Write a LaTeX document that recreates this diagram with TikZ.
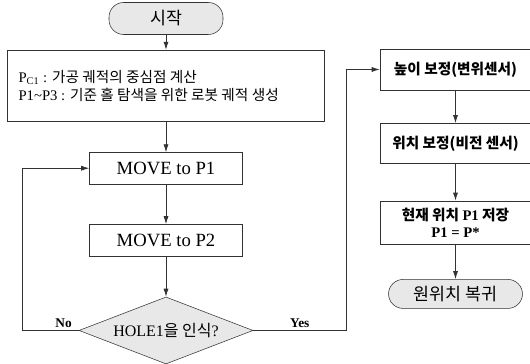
\documentclass[tikz,border=0pt]{standalone}
\usepackage{fontspec}
\setmainfont{Liberation Serif}
\newfontfamily\kr{Noto Sans CJK KR}
\usepackage{tikz}
\usetikzlibrary{arrows.meta,positioning,shapes.geometric}
\definecolor{linea}{RGB}{50,50,50}
\definecolor{gris}{RGB}{232,232,232}

\begin{document}
\begin{tikzpicture}[x=0.75pt,y=0.75pt,
term/.style={draw=linea,rounded corners=11pt,fill=gris,minimum height=24pt,inner sep=0pt,font=\kr\fontsize{13}{15}\selectfont},
box/.style={draw=linea,fill=white,minimum width=114.75pt,minimum height=23.5pt,inner sep=0pt,align=center,font=\fontsize{14}{16}\selectfont},
rbox/.style={draw=linea,fill=white,minimum width=113.25pt,minimum height=30.5pt,inner sep=0pt,align=center,font=\kr\bfseries\fontsize{11}{12.75}\selectfont},
dec/.style={draw=linea,diamond,aspect=2.6,fill=gris,minimum width=130.5pt,minimum height=50.25pt,inner sep=0pt,font=\fontsize{12}{14}\selectfont},
lbl/.style={font=\bfseries\fontsize{10}{12}\selectfont,inner sep=2pt},
arr/.style={-{Latex[length=6pt,width=3.8pt]},draw=linea,line width=0.6pt}
]
\useasboundingbox (0,0) rectangle (530,363);

% left column
\node[term,minimum width=85.5pt] (st) at (166,344.5) {시작};
\node[box,below=11.25pt of st,minimum width=237.75pt,minimum height=53.25pt,align=left,font=\fontsize{11}{13.5}\selectfont] (calc) {P\textsubscript{C1} : {\kr 가공 궤적의 중심점 계산}\\P1\textasciitilde P3 : {\kr 기준 홀 탐색을 위한 로봇 궤적 생성}\rule{26pt}{0pt}};
\node[box,below=23.25pt of calc] (m1) {MOVE to P1};
\node[box,below=30pt of m1,minimum height=24pt] (m2) {MOVE to P2};
\node[dec,below=30pt of m2] (hole) {HOLE1{\kr 을 인식}?};

% right column
\node[rbox] (alt) at (455.5,293.5) {높이 보정(변위센서)};
\node[rbox,below=24.75pt of alt,minimum height=30pt] (pos) {위치 보정(비전 센서)};
\node[rbox,below=27.75pt of pos,minimum height=32.25pt] (sav) {현재 위치 {\rmfamily P1} 저장\\{\rmfamily P1 = P*}};
\node[term,below=26.25pt of sav,minimum width=100.5pt,minimum height=21.75pt] (fin) {원위치 복귀};

\draw[arr] (st)--(calc);
\draw[arr] (calc)--(m1);
\draw[arr] (m1)--(m2);
\draw[arr] (m2)--(hole);
\draw[arr] (hole.west)--node[lbl,above,pos=0.27]{No} ++(-56,0) |- (m1.west);
\draw[arr] (hole.east)--node[lbl,above,midway]{Yes} ++(93,0) |- (alt.west);
\draw[arr] (alt)--(pos);
\draw[arr] (pos)--(sav);
\draw[arr] (sav)--(fin);
\end{tikzpicture}
\end{document}
